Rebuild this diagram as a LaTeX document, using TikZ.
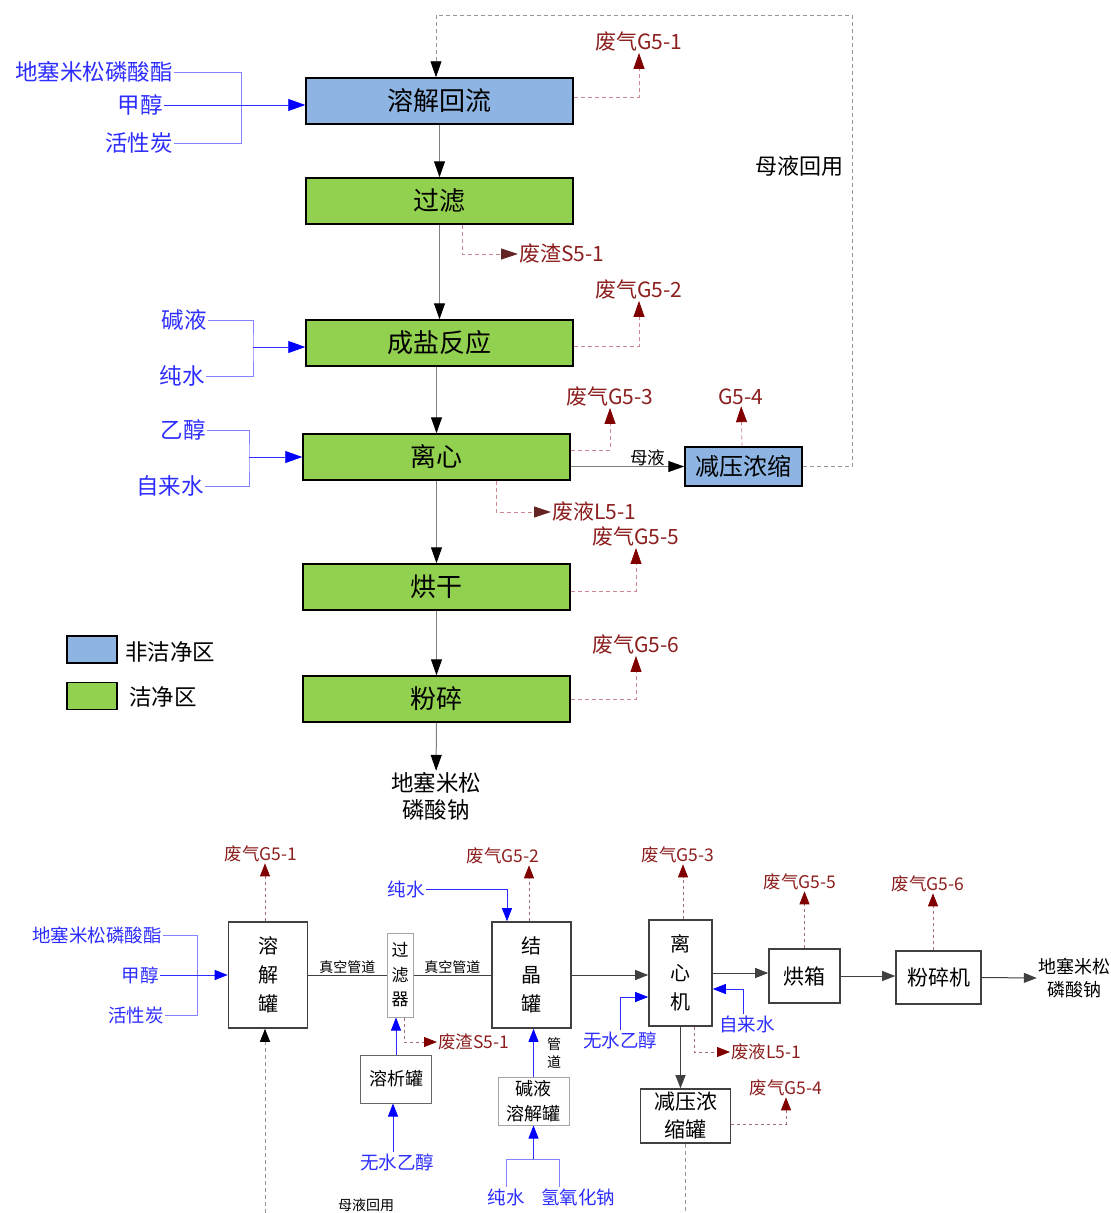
\documentclass[tikz,border=0pt]{standalone}
\usepackage{fontspec}
\newfontfamily\cjk{Noto Sans CJK SC}
\usetikzlibrary{arrows.meta}

\definecolor{zoneblue}{RGB}{141,180,226}
\definecolor{zonegreen}{RGB}{146,208,80}
\definecolor{wastered}{RGB}{128,0,0}
\definecolor{wastetext}{RGB}{140,30,30}
\definecolor{wasteline}{RGB}{205,135,145}
\definecolor{residuebrown}{RGB}{99,37,35}
\definecolor{feedblue}{RGB}{45,45,255}
\definecolor{feedline}{RGB}{130,130,255}
\definecolor{flowgray}{RGB}{128,128,128}
\definecolor{loopgray}{RGB}{150,150,150}
\definecolor{tankgray}{RGB}{64,64,64}

\tikzset{
  zone/.style={draw=black, line width=1.5pt, minimum width=267, minimum height=46,
    inner sep=0pt, font=\cjk\fontsize{26}{30}\selectfont},
  dirty/.style={zone, fill=zoneblue},
  clean/.style={zone, fill=zonegreen},
  flow/.style={draw=flowgray, line width=1pt, -{Triangle[length=16pt,width=11pt,color=black]}},
  feed/.style={draw=feedblue, line width=0.8pt, -{Triangle[length=17pt,width=12pt,color=blue]}},
  feedbr/.style={draw=feedline, line width=0.8pt},
  waste/.style={draw=wasteline, line width=0.8pt, dash pattern=on 4pt off 3pt,
    -{Triangle[length=16pt,width=11pt,color=wastered]}},
  residue/.style={waste, -{Triangle[length=17pt,width=11pt,color=residuebrown]}},
  recycle/.style={draw=loopgray, line width=0.9pt, dash pattern=on 4pt off 3pt,
    -{Triangle[length=16pt,width=11pt,color=black]}},
  feedlab/.style={text=feedblue, font=\cjk\fontsize{22.5}{26}\selectfont, inner sep=1pt},
  wastelab/.style={text=wastetext, font=\cjk\fontsize{21}{24}\selectfont, inner sep=1pt},
  plainlab/.style={font=\cjk\fontsize{22.5}{27}\selectfont, align=center, inner sep=1pt},
  % equipment view
  tank/.style={draw=tankgray, line width=1.6pt, fill=white, inner sep=0pt, align=center,
    font=\cjk\fontsize{20}{29}\selectfont},
  smalltank/.style={tank, draw=gray!70, line width=1pt, font=\cjk\fontsize{18}{25}\selectfont},
  pipeline/.style={draw=tankgray, line width=1pt},
  pipe/.style={pipeline, -{Triangle[length=13pt,width=10pt,color=tankgray]}},
  bfeed/.style={draw=feedblue, line width=0.8pt, -{Triangle[length=13pt,width=10pt,color=blue]}},
  bwaste/.style={draw=wasteline!80!black, line width=0.8pt, dash pattern=on 3pt off 3pt,
    -{Triangle[length=13pt,width=10pt,color=wastered]}},
  bfeedlab/.style={text=feedblue, font=\cjk\fontsize{18.5}{22}\selectfont, inner sep=1pt},
  bwastelab/.style={text=wastetext, font=\cjk\fontsize{17.5}{20}\selectfont, inner sep=1pt},
  pipelab/.style={font=\cjk\fontsize{14}{18}\selectfont, inner sep=0.5pt, align=center}
}

\begin{document}
\begin{tikzpicture}[x=1pt,y=-1pt,font=\cjk]
    \useasboundingbox (0,0) rectangle (1111,1213);

    % process blocks
    \node[dirty] (dissolve) at (439.5,101) {溶解回流};
    \node[clean] (filter) at (439.5,201) {过滤};
    \node[clean] (salt) at (439.5,343) {成盐反应};
    \node[clean] (centri) at (436.5,457) {离心};
    \node[clean] (dry) at (436.5,587) {烘干};
    \node[clean] (mill) at (436.5,699) {粉碎};
    \node[dirty, minimum width=117, minimum height=39, font=\cjk\fontsize{24}{28}\selectfont]
        (conc) at (743.5,466.5) {减压浓缩};
    \node[plainlab] (product) at (436,796) {地塞米松\\磷酸钠};

    \draw[flow] (dissolve) -- (filter);
    \draw[flow] (filter) -- (salt);
    \draw[flow] (salt.south -| centri) -- (centri);
    \draw[flow] (centri) -- (dry);
    \draw[flow] (dry) -- (mill);
    \draw[flow] (mill) -- (product);
    \draw[flow] (centri.east |- conc.west) -- (conc.west)
        node[pos=0.68, above=-3pt, font=\cjk\fontsize{17.5}{20}\selectfont] (mlabel) {母液};

    % mother liquor recycle
    \coordinate (loopTR) at (852,15);
    \draw[recycle] (conc.east) -| (loopTR) -| ([xshift=-3.5pt]dissolve.north);
    \node[font=\cjk\fontsize{22}{26}\selectfont] (reuse) at (799,166) {母液回用};

    % feeds
    \node[feedlab, anchor=east] (f_ester) at (174,72) {地塞米松磷酸酯};
    \node[feedlab, anchor=east] (f_meoh) at (164,105) {甲醇};
    \node[feedlab, anchor=east] (f_carbon) at (174,143) {活性炭};
    \draw[feedbr] (f_ester.east) -- ++(67,0) |- (f_carbon.east);
    \draw[feed] (f_meoh.east) -- (f_meoh.east -| dissolve.west);

    \node[feedlab, anchor=east] (f_lye) at (208,320) {碱液};
    \node[feedlab, anchor=east] (f_water) at (206,376) {纯水};
    \coordinate (saltin) at (253,347);
    \draw[feedbr] (f_lye.east) -| (saltin) |- (f_water.east);
    \draw[feed] (saltin) -- (saltin -| salt.west);

    \node[feedlab, anchor=east] (f_etoh) at (207,430) {乙醇};
    \node[feedlab, anchor=east] (f_tap) at (205,486) {自来水};
    \coordinate (centriin) at (249,457);
    \draw[feedbr] (f_etoh.east) -| (centriin) |- (f_tap.east);
    \draw[feed] (centriin) -- (centriin -| centri.west);

    % wastes
    \node[wastelab] (w_g1) at (639,42) {废气G5-1};
    \draw[waste] ([yshift=4pt]dissolve.east) -| (w_g1);
    \node[wastelab, anchor=west] (w_s1) at (518,254) {废渣S5-1};
    \draw[residue] ([xshift=23pt]filter.south) |- (w_s1.west);
    \node[wastelab] (w_g2) at (639,290) {废气G5-2};
    \draw[waste] ([yshift=-3pt]salt.east) -| (w_g2);
    \node[wastelab] (w_g3) at (610,397) {废气G5-3};
    \draw[waste] ([yshift=7pt]centri.east) -| (w_g3);
    \node[wastelab] (w_g4) at (741,397) {G5-4};
    \draw[waste] ([xshift=-1.5pt]conc.north) -- (w_g4);
    \node[wastelab, anchor=west] (w_l1) at (551,512) {废液L5-1};
    \draw[residue] ([xshift=59.5pt]centri.south) |- (w_l1.west);
    \node[wastelab] (w_g5) at (636,537) {废气G5-5};
    \draw[waste] ([yshift=-4pt]dry.east) -| (w_g5);
    \node[wastelab] (w_g6) at (636,645) {废气G5-6};
    \draw[waste] (mill.east) -| (w_g6);

    % legend
    \node[dirty, minimum width=50, minimum height=27] (key_dirty) at (92,649.5) {};
    \node[feedlab, text=black, anchor=west] (key_dirty_t) at (124,652) {非洁净区};
    \node[clean, minimum width=50, minimum height=27] (key_clean) at (92,696) {};
    \node[feedlab, text=black, anchor=west] (key_clean_t) at (128,697) {洁净区};

    % equipment view
    \node[tank, minimum width=79, minimum height=106] (t_dissolve) at (268,975) {溶\\解\\罐};
    \node[smalltank, minimum width=26, minimum height=84, font=\cjk\fontsize{17}{24.5}\selectfont]
        (t_filter) at (400,975) {过\\滤\\器};
    \node[tank, minimum width=79, minimum height=106] (t_cryst) at (531.5,975) {结\\晶\\罐};
    \node[smalltank, draw=tankgray!80, minimum width=71, minimum height=48] (t_precip) at (396,1079) {溶析罐};
    \node[smalltank, minimum width=71, minimum height=48] (t_lye) at (533.5,1101) {碱液\\溶解罐};
    \node[tank, minimum width=63, minimum height=106] (t_centri) at (680.5,973) {离\\心\\机};
    \node[tank, minimum width=71, minimum height=54, font=\cjk\fontsize{21}{25}\selectfont]
        (t_oven) at (804.5,976) {烘箱};
    \node[tank, minimum width=85, minimum height=53, font=\cjk\fontsize{21}{25}\selectfont]
        (t_mill) at (938.5,977.5) {粉碎机};
    \node[tank, minimum width=90, minimum height=54, font=\cjk\fontsize{21}{28}\selectfont]
        (t_evap) at (685.5,1116) {减压浓\\缩罐};
    \node[plainlab, font=\cjk\fontsize{18}{23}\selectfont] (product2) at (1074,978) {地塞米松\\磷酸钠};

    \draw[pipeline] (t_dissolve) -- (t_filter)
        node[midway, above, pipelab] (vac1) {真空管道};
    \draw[pipeline] (t_filter) -- (t_cryst)
        node[midway, above, pipelab] (vac2) {真空管道};
    \draw[pipe] (t_cryst.east) -- (t_cryst.east -| t_centri.west);
    \draw[pipe] (t_centri.east) -- (t_centri.east -| t_oven.west);
    \draw[pipe] (t_oven.east) -- (t_oven.east -| t_mill.west);
    \draw[pipe] (t_mill.east) -- (product2.west);
    \draw[pipe] (t_centri.south) -- (t_centri.south |- t_evap.north);

    % equipment feeds
    \node[bfeedlab, anchor=east] (f2_ester) at (163,935) {地塞米松磷酸酯};
    \node[bfeedlab, anchor=east] (f2_meoh) at (160,975) {甲醇};
    \node[bfeedlab, anchor=east] (f2_carbon) at (165,1015) {活性炭};
    \draw[feedbr] (f2_ester.east) -- ++(34,0) |- (f2_carbon.east);
    \draw[bfeed] (f2_meoh.east) -- (f2_meoh.east -| t_dissolve.west);

    \node[bfeedlab, anchor=east] (f2_water) at (426,889) {纯水};
    \draw[bfeed] (f2_water.east) -| ([xshift=-24.5pt]t_cryst.north);
    \draw[bfeed] (t_precip.north) -- (t_precip.north |- t_filter.south);
    \node[bfeedlab] (f2_etoh) at (397,1162) {无水乙醇};
    \draw[bfeed] ([xshift=-4pt]f2_etoh.north) -- ([xshift=-3pt]t_precip.south);
    \draw[bfeed] (t_lye.north) -- (t_lye.north |- t_cryst.south);
    \node[pipelab] (pipe_t) at (554,1053) {管\\道};

    \node[bfeedlab] (f2_pw) at (506,1197) {纯水};
    \node[bfeedlab] (f2_naoh) at (578,1197) {氢氧化钠};
    \coordinate (lyejoin) at (533.5,1159);
    \draw[feedbr] (f2_pw.north) |- (lyejoin) -| ([xshift=-19pt]f2_naoh.north);
    \draw[bfeed] (lyejoin) -- (t_lye.south);

    \node[bfeedlab] (f2_etoh2) at (620,1040) {无水乙醇};
    \draw[bfeed] (f2_etoh2.north) |- ([yshift=-24pt]t_centri.west);
    \node[bfeedlab] (f2_tap) at (747,1024) {自来水};
    \draw[bfeed] ([xshift=-4pt]f2_tap.north) |- ([yshift=-16pt]t_centri.east);

    % equipment wastes
    \node[bwastelab] (w2_g1) at (261,854) {废气G5-1};
    \draw[bwaste] ([xshift=-3pt]t_dissolve.north) -- ([xshift=4pt]w2_g1.south);
    \node[bwastelab] (w2_g2) at (503,856) {废气G5-2};
    \draw[bwaste] ([xshift=-2.5pt]t_cryst.north) -- ([xshift=-2.5pt]t_cryst.north |- w2_g2.south);
    \node[bwastelab] (w2_g3) at (678,855) {废气G5-3};
    \draw[bwaste] ([xshift=2.5pt]t_centri.north) -- ([xshift=2.5pt]t_centri.north |- w2_g3.south);
    \node[bwastelab] (w2_g5) at (800,882) {废气G5-5};
    \draw[bwaste] (t_oven.north) -- (t_oven.north |- w2_g5.south);
    \node[bwastelab] (w2_g6) at (928,884) {废气G5-6};
    \draw[bwaste] ([xshift=-5.5pt]t_mill.north) -- ([xshift=-5.5pt]t_mill.north |- w2_g6.south);
    \node[bwastelab, anchor=west] (w2_s1) at (437,1042) {废渣S5-1};
    \draw[bwaste] ([xshift=4pt]t_filter.south) |- (w2_s1.west);
    \node[bwastelab, anchor=west] (w2_l1) at (730,1052) {废液L5-1};
    \draw[bwaste] ([xshift=14pt]t_centri.south) |- (w2_l1.west);
    \node[bwastelab] (w2_g4) at (786,1088) {废气G5-4};
    \draw[bwaste] ([yshift=-8pt]t_evap.east) -| (w2_g4.south);

    % equipment recycle
    \coordinate (recyc2) at (265,1213);
    \draw[recycle, -{Triangle[length=13pt,width=10pt,color=black]}]
        (recyc2) -- (recyc2 |- t_dissolve.south);
    \coordinate (evapout) at (686,1213);
    \draw[recycle, -] (t_evap.south) -- (t_evap.south |- evapout);
    \node[pipelab] (reuse2) at (366,1205) {母液回用};
\end{tikzpicture}
\end{document}
